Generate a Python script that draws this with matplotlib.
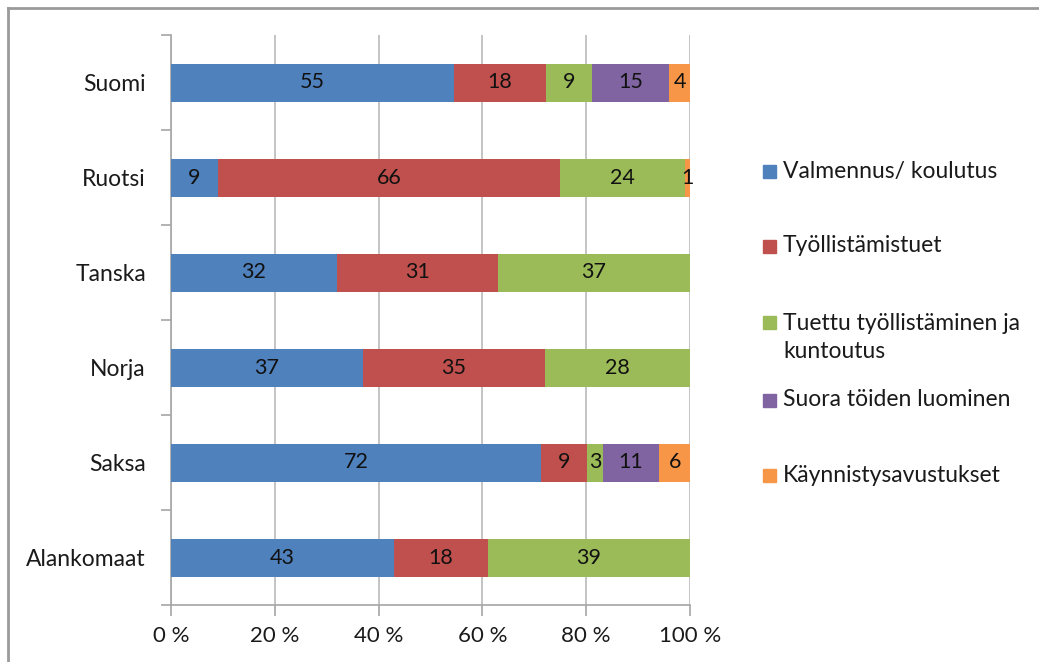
import numpy as np
import matplotlib.pyplot as plt
from matplotlib.patches import Rectangle
from matplotlib.lines import Line2D
from matplotlib.ticker import FixedLocator

plt.rcParams['font.family'] = ['Lato', 'DejaVu Sans']

# data
countries = ["Suomi", "Ruotsi", "Tanska", "Norja", "Saksa", "Alankomaat"]
series = ["Valmennus/ koulutus", "Työllistämistuet",
          "Tuettu työllistäminen ja\nkuntoutus", "Suora töiden luominen",
          "Käynnistysavustukset"]
valmennus = [55, 9, 32, 37, 72, 43]
tyollistamistuet = [18, 66, 31, 35, 9, 18]
tuettu = [9, 24, 37, 28, 3, 39]
suora = [15, 0, 0, 0, 11, 0]
kaynnistys = [4, 1, 0, 0, 6, 0]
colors = ["#4F81BD", "#C0504D", "#9BBB59", "#8064A2", "#F79646"]

vals = np.array([valmennus, tyollistamistuet, tuettu, suora, kaynnistys], dtype=float)
shares = vals / vals.sum(axis=0) * 100   # 100 % stacked

W, H = 1039, 662
fig = plt.figure(figsize=(W / 100, H / 100), dpi=100)
ax = fig.add_axes([171/W, 1-605/H, 519/W, 570/H])

y = np.arange(len(countries))
left = np.zeros(len(countries))
for i in range(len(series)):
    ax.barh(y, shares[i], left=left, height=0.4, color=colors[i], zorder=3)
    for j in range(len(countries)):
        if vals[i, j] > 0:
            ax.text(left[j] + shares[i, j] / 2, y[j], f"{int(vals[i, j])}",
                    ha="center", va="center", fontsize=15.5, color="#111111",
                    zorder=4)
    left += shares[i]

ax.set_xlim(0, 100)
ax.set_ylim(5.5, -0.5)
ax.set_xticks(np.arange(0, 101, 20))
ax.set_xticklabels([f"{v} %" for v in range(0, 101, 20)])
ax.set_yticks(y)
ax.set_yticklabels(countries)
ax.yaxis.set_minor_locator(FixedLocator(np.arange(-0.5, 6, 1)))
ax.tick_params(axis="y", which="major", length=0, pad=18, labelsize=16.5,
               labelcolor="#1a1a1a")
ax.tick_params(axis="y", which="minor", length=7, width=1.2, color="#A6A6A6")
ax.tick_params(axis="x", length=8, width=1.2, color="#A6A6A6", pad=7,
               labelsize=16, labelcolor="#1a1a1a")
ax.grid(axis="x", color="#BFBFBF", lw=1.3, zorder=0)
for s in ["top", "right"]:
    ax.spines[s].set_visible(False)
for s in ["left", "bottom"]:
    ax.spines[s].set_color("#A6A6A6")
    ax.spines[s].set_linewidth(1.2)

# legend, drawn by hand to keep the uneven spacing of the entries
leg_y = [171.5, 246, 323, 400, 475]
for c, lab, yy in zip(colors, series, leg_y):
    fig.patches.append(Rectangle((763/W, 1 - (yy + 6.5)/H), 13/W, 13/H,
                                 transform=fig.transFigure, color=c))
    for k, line in enumerate(lab.split("\n")):
        fig.text(783/W, 1 - (yy + 29*k)/H, line, ha="left", va="center",
                 fontsize=16.5, color="#1a1a1a")

# outer chart frame
fig.add_artist(Line2D([8/W, 1.0], [1-8/H, 1-8/H], transform=fig.transFigure,
                      color="#9A9A9A", lw=2))
fig.add_artist(Line2D([8/W, 8/W], [1-8/H, 0.0], transform=fig.transFigure,
                      color="#9A9A9A", lw=2))

fig.savefig("out.png", dpi=100)
